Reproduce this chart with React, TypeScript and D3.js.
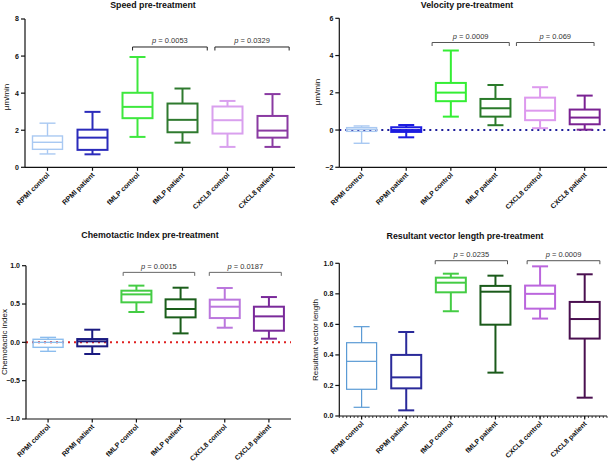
import React from "react";
import * as d3 from "d3";

const categories = ["RPMI control", "RPMI patient", "fMLP control", "fMLP patient", "CXCL8 control", "CXCL8 patient"];

// [min, Q1, median, Q3, max]
const speedStats = [
  [0.72, 0.97, 1.35, 1.69, 2.38],
  [0.70, 0.94, 1.60, 2.03, 2.99],
  [1.64, 2.65, 3.26, 4.02, 5.95],
  [1.33, 1.89, 2.56, 3.44, 4.25],
  [1.10, 1.82, 2.54, 3.28, 3.58],
  [1.10, 1.60, 1.98, 2.77, 3.95],
];
const velocityStats = [
  [-0.71, -0.07, 0.04, 0.13, 0.22],
  [-0.39, -0.10, 0.00, 0.15, 0.27],
  [0.72, 1.55, 2.01, 2.53, 4.27],
  [0.26, 0.72, 1.17, 1.67, 2.42],
  [0.10, 0.53, 1.04, 1.74, 2.30],
  [0.02, 0.31, 0.67, 1.10, 1.85],
];
const chemotacticStats = [
  [-0.117, -0.065, 0.0, 0.04, 0.065],
  [-0.152, -0.052, 0.013, 0.043, 0.165],
  [0.396, 0.522, 0.626, 0.674, 0.74],
  [0.117, 0.326, 0.435, 0.561, 0.713],
  [0.191, 0.317, 0.465, 0.557, 0.709],
  [0.048, 0.152, 0.339, 0.465, 0.591],
];
const resultantStats = [
  [0.057, 0.175, 0.358, 0.48, 0.585],
  [0.037, 0.181, 0.253, 0.40, 0.55],
  [0.686, 0.81, 0.873, 0.906, 0.932],
  [0.284, 0.598, 0.814, 0.852, 0.919],
  [0.638, 0.703, 0.80, 0.854, 0.98],
  [0.12, 0.507, 0.635, 0.747, 0.928],
];

const speedTicks = [0, 2, 4, 6, 8];
const velocityTicks = [-2, 0, 2, 4, 6];
const chemotacticTicks = [-1, -0.5, 0, 0.5, 1];
const resultantTicks = [0, 0.2, 0.4, 0.6, 0.8, 1.0];

// brackets: from/to in category-index units, y in data units
const speedBrackets = [
  { from: 2.39, to: 4.05, y: 6.49, p: "0.0053" },
  { from: 4.22, to: 5.87, y: 6.49, p: "0.0329" },
];
const velocityBrackets = [
  { from: 2.08, to: 3.81, y: 4.7, p: "0.0009" },
  { from: 3.97, to: 5.71, y: 4.7, p: "0.069" },
];
const chemotacticBrackets = [
  { from: 2.2, to: 3.82, y: 0.913, p: "0.0015" },
  { from: 4.15, to: 5.78, y: 0.913, p: "0.0187" },
];
const resultantBrackets = [
  { from: 2.15, to: 3.77, y: 1.017, p: "0.0235" },
  { from: 4.21, to: 5.84, y: 1.017, p: "0.0009" },
];

const FONT = "'Liberation Sans', Arial, Helvetica, sans-serif";

type Bracket = { from: number; to: number; y: number; p: string };
type PanelCfg = {
  title: string; titleX: number; titleY: number;
  ylabel: string; ylabelX: number; ylabelY: number;
  x0: number; x1: number; yDomain: [number, number]; yRange: [number, number];
  ticks: number[]; fmt: (v: number) => string;
  stats: number[][]; colors: string[]; widths: number[];
  brackets: Bracket[]; bracketColor: string;
  refLine: string | null; minorTicks: boolean;
};

const minusFmt = (f: string) => (v: number) => d3.format(f)(v).replace("-", "\u2212");

const panels: PanelCfg[] = [
  {
    title: "Speed pre-treatment", titleX: 153, titleY: 8,
    ylabel: "\u00b5m/min", ylabelX: 9, ylabelY: 97,
    x0: 25, x1: 295, yDomain: [0, 8], yRange: [167.3, 19],
    ticks: speedTicks, fmt: minusFmt("d"),
    stats: speedStats,
    colors: ["#a9c9f2", "#2b2bbb", "#3ee83e", "#2f7a2f", "#d9a0ee", "#8a3aa2"],
    widths: [1.4, 2, 2, 2, 2, 2],
    brackets: speedBrackets, bracketColor: "#222", refLine: null, minorTicks: false,
  },
  {
    title: "Velocity pre-treatment", titleX: 467, titleY: 8,
    ylabel: "\u00b5m/min", ylabelX: 320, ylabelY: 92,
    x0: 339.3, x1: 607, yDomain: [-2, 6], yRange: [167.3, 18.3],
    ticks: velocityTicks, fmt: minusFmt("d"),
    stats: velocityStats,
    colors: ["#a9c9f2", "#1c1ce0", "#34ee34", "#2a7a2a", "#dd99ee", "#7a2292"],
    widths: [1.4, 2, 2, 2, 2, 2],
    brackets: velocityBrackets, bracketColor: "#555", refLine: "#1c1c9a", minorTicks: false,
  },
  {
    title: "Chemotactic Index pre-treatment", titleX: 150, titleY: 238,
    ylabel: "Chemotactic index", ylabelX: 7, ylabelY: 342,
    x0: 26, x1: 291, yDomain: [-1, 1], yRange: [419, 265.7],
    ticks: chemotacticTicks, fmt: minusFmt(".1f"),
    stats: chemotacticStats,
    colors: ["#8cbdee", "#1a1a80", "#44cc44", "#1b5e1b", "#bb77dd", "#7a2a9a"],
    widths: [1.4, 2, 2, 2, 2, 2],
    brackets: chemotacticBrackets, bracketColor: "#666", refLine: "#e02020", minorTicks: false,
  },
  {
    title: "Resultant vector length pre-treatment", titleX: 465, titleY: 239,
    ylabel: "Resultant vector length", ylabelX: 318, ylabelY: 340,
    x0: 339.3, x1: 607, yDomain: [0, 1], yRange: [416, 263.3],
    ticks: resultantTicks, fmt: minusFmt(".1f"),
    stats: resultantStats,
    colors: ["#5b9bd5", "#2a2a9a", "#44cc44", "#1a5a1a", "#bb66dd", "#4a1050"],
    widths: [1.2, 2, 2, 2, 2, 2],
    brackets: resultantBrackets, bracketColor: "#555", refLine: null, minorTicks: true,
  },
];

function Panel({ cfg }: { cfg: PanelCfg }) {
  const x = d3.scaleBand<string>().domain(categories).range([cfg.x0, cfg.x1]);
  const xi = d3.scaleLinear().domain([0, categories.length]).range([cfg.x0, cfg.x1]);
  const y = d3.scaleLinear().domain(cfg.yDomain).range(cfg.yRange);
  const axisY = cfg.yRange[0];
  const bw = 30;
  const cap = 16;
  const minor = cfg.minorTicks ? d3.range(0, categories.length * 12 + 1).map((i) => xi(i / 12)) : [];
  return (
    <g>
      <text x={cfg.titleX} y={cfg.titleY} textAnchor="middle" fontWeight="bold" fontSize={8.8} fill="#111">
        {cfg.title}
      </text>
      <text transform={`translate(${cfg.ylabelX},${cfg.ylabelY}) rotate(-90)`} textAnchor="middle" fontSize={8} fill="#111">
        {cfg.ylabel}
      </text>
      {/* reference line */}
      {cfg.refLine && (
        <line x1={cfg.x0} x2={cfg.x1} y1={y(0)} y2={y(0)} stroke={cfg.refLine} strokeWidth={2} strokeDasharray="2 4" />
      )}
      {/* boxes */}
      {cfg.stats.map((s, i) => {
        const c = categories[i];
        const cx = (x(c) as number) + x.bandwidth() / 2;
        const col = cfg.colors[i];
        const sw = cfg.widths[i];
        return (
          <g key={c} stroke={col} strokeWidth={sw} fill="none">
            <line x1={cx} x2={cx} y1={y(s[0])} y2={y(s[1])} />
            <line x1={cx} x2={cx} y1={y(s[3])} y2={y(s[4])} />
            <line x1={cx - cap / 2} x2={cx + cap / 2} y1={y(s[0])} y2={y(s[0])} />
            <line x1={cx - cap / 2} x2={cx + cap / 2} y1={y(s[4])} y2={y(s[4])} />
            <rect x={cx - bw / 2} y={y(s[3])} width={bw} height={Math.max(0.5, y(s[1]) - y(s[3]))} />
            <line x1={cx - bw / 2} x2={cx + bw / 2} y1={y(s[2])} y2={y(s[2])} />
          </g>
        );
      })}
      {/* brackets */}
      {cfg.brackets.map((b, i) => {
        const bx1 = xi(b.from);
        const bx2 = xi(b.to);
        const by = y(b.y);
        return (
          <g key={i}>
            <path d={`M${bx1},${by + 3.5}V${by}H${bx2}V${by + 3.5}`} fill="none" stroke={cfg.bracketColor} strokeWidth={1} />
            <text x={(bx1 + bx2) / 2} y={by - 3.5} textAnchor="middle" fontSize={7.5} fill="#333">
              <tspan fontStyle="italic">p</tspan> = {b.p}
            </text>
          </g>
        );
      })}
      {/* y axis */}
      <line x1={cfg.x0} x2={cfg.x0} y1={cfg.yRange[1]} y2={axisY} stroke="#111" strokeWidth={1.2} />
      {cfg.ticks.map((t) => (
        <g key={t}>
          <line x1={cfg.x0 - 4} x2={cfg.x0} y1={y(t)} y2={y(t)} stroke="#111" strokeWidth={1.2} />
          <text x={cfg.x0 - 6} y={y(t)} dy="0.35em" textAnchor="end" fontSize={7} fontWeight="bold" fill="#111">
            {cfg.fmt(t)}
          </text>
        </g>
      ))}
      {/* x axis */}
      <line x1={cfg.x0} x2={cfg.x1} y1={axisY} y2={axisY} stroke="#111" strokeWidth={1.2} />
      {minor.map((mx, i) => (
        <line key={"m" + i} x1={mx} x2={mx} y1={axisY} y2={axisY + 2} stroke="#111" strokeWidth={0.8} />
      ))}
      {categories.map((c) => {
        const cx = (x(c) as number) + x.bandwidth() / 2;
        return (
          <g key={c}>
            <line x1={cx} x2={cx} y1={axisY} y2={axisY + 3.5} stroke="#111" strokeWidth={1.2} />
            <text transform={`translate(${cx + 2.5},${axisY + 8}) rotate(-45)`} textAnchor="end" fontSize={7} fontWeight="bold" fill="#111">
              {c}
            </text>
          </g>
        );
      })}
    </g>
  );
}

export default function App() {
  return (
    <svg
      width={609}
      height={462}
      viewBox="0 0 609 462"
      style={{ position: "absolute", left: 0, top: 0, background: "#fff", fontFamily: FONT }}
    >
      <rect width={609} height={462} fill="#fff" />
      {panels.map((p, i) => (
        <Panel key={i} cfg={p} />
      ))}
    </svg>
  );
}
